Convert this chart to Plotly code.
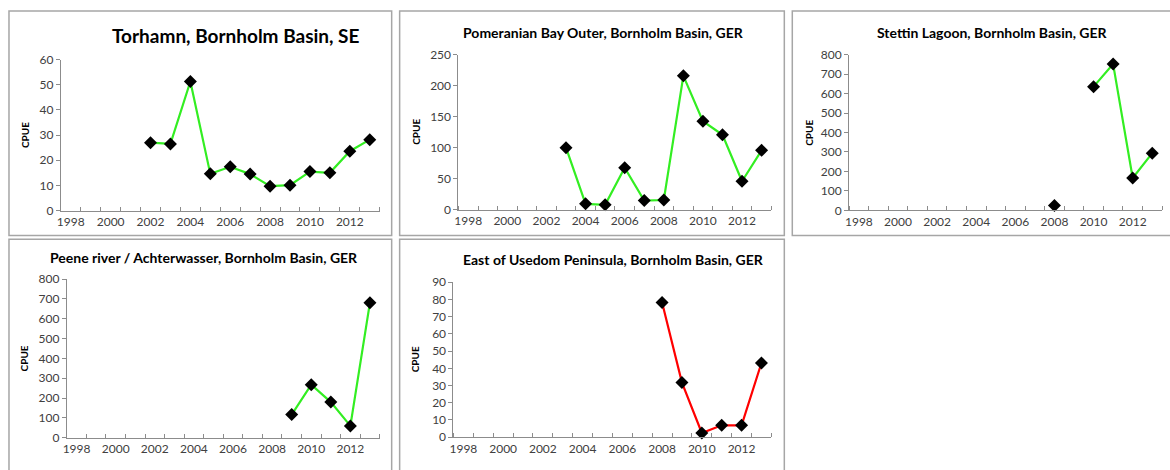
import plotly.graph_objects as go

W, H = 1170, 470

# ---- data ----
torhamn_years = [2002, 2003, 2004, 2005, 2006, 2007, 2008, 2009, 2010, 2011, 2012, 2013]
torhamn_cpue = [27.0, 26.5, 51.3, 14.6, 17.4, 14.5, 9.7, 10.1, 15.5, 15.0, 23.6, 28.2]

pomeranian_years = [2003, 2004, 2005, 2006, 2007, 2008, 2009, 2010, 2011, 2012, 2013]
pomeranian_cpue = [100, 9.4, 7.8, 67.7, 14.6, 15.6, 216, 142.7, 120.8, 45.8, 95.8]

stettin_years = [2008, 2009, 2010, 2011, 2012, 2013]
stettin_cpue = [25, None, 636, 752, 166, 294]

peene_years = [2009, 2010, 2011, 2012, 2013]
peene_cpue = [117, 268, 180, 60, 681]

usedom_years = [2008, 2009, 2010, 2011, 2012, 2013]
usedom_cpue = [78.2, 31.7, 2.4, 6.9, 6.9, 43.1]

year_labels = [1998, 2000, 2002, 2004, 2006, 2008, 2010, 2012]

panels = [
    dict(title="Torhamn, Bornholm Basin, SE", x=torhamn_years, y=torhamn_cpue,
         color="#33ee22", ymax=60, dy=10, box=(5, 3, 389, 235),
         plot=(57, 377, 53.3, 209.3), title_pos=(233, 28), title_size=19, ytitle_x=21),
    dict(title="Pomeranian Bay Outer, Bornholm Basin, GER", x=pomeranian_years, y=pomeranian_cpue,
         color="#33ee22", ymax=250, dy=50, box=(397, 3, 783, 235),
         plot=(456, 770, 48.3, 208.3), title_pos=(602, 25), title_size=14, ytitle_x=414),
    dict(title="Stettin Lagoon, Bornholm Basin, GER", x=stettin_years, y=stettin_cpue,
         color="#33ee22", ymax=800, dy=100, box=(791, 3, 1175, 235),
         plot=(848, 1162, 48.3, 209), title_pos=(992, 25), title_size=14, ytitle_x=807),
    dict(title="Peene river / Achterwasser, Bornholm Basin, GER", x=peene_years, y=peene_cpue,
         color="#33ee22", ymax=800, dy=100, box=(5, 239, 389, 480),
         plot=(63, 377, 280, 444), title_pos=(201, 258), title_size=14, ytitle_x=21),
    dict(title="East of Usedom Peninsula, Bornholm Basin, GER", x=usedom_years, y=usedom_cpue,
         color="#ff0000", ymax=90, dy=10, box=(397, 239, 783, 480),
         plot=(451, 770, 283.3, 443.3), title_pos=(612, 260), title_size=14, ytitle_x=412),
]

fig = go.Figure()
FONT = "Lato, 'Open Sans', sans-serif"
shapes = []
annotations = []

for i, p in enumerate(panels):
    n = i + 1
    xa = "x" if n == 1 else f"x{n}"
    ya = "y" if n == 1 else f"y{n}"
    fig.add_trace(go.Scatter(
        x=p["x"], y=p["y"], xaxis=xa, yaxis=ya, mode="lines+markers",
        line=dict(color=p["color"], width=2.2),
        marker=dict(symbol="diamond", size=10, color="black"),
        connectgaps=False, cliponaxis=False, showlegend=False, hoverinfo="x+y"))
    x0, x1, ytop, ybot = p["plot"]
    xaxis = dict(
        domain=[x0 / W, x1 / W], range=[1997.5, 2013.5], anchor=ya,
        tickvals=year_labels, ticktext=[str(v) for v in year_labels],
        ticks="", showgrid=False, zeroline=False,
        showline=True, linecolor="#8c8c8c", linewidth=1,
        tickfont=dict(family=FONT, size=12, color="#404040"),
        minor=dict(tickvals=[v + 0.5 for v in range(1997, 2014)], ticks="inside",
                   ticklen=4, tickcolor="#8c8c8c", showgrid=False),
        fixedrange=True)
    yaxis = dict(
        domain=[1 - ybot / H, 1 - ytop / H], range=[0, p["ymax"]], anchor=xa,
        tickvals=list(range(0, p["ymax"] + 1, p["dy"])),
        ticks="outside", ticklen=4, tickcolor="#8c8c8c",
        showgrid=False, zeroline=False,
        showline=True, linecolor="#8c8c8c", linewidth=1,
        tickfont=dict(family=FONT, size=12, color="#404040"),
        fixedrange=True)
    fig.update_layout(**{("xaxis" if n == 1 else f"xaxis{n}"): xaxis,
                         ("yaxis" if n == 1 else f"yaxis{n}"): yaxis})
    bx0, by0, bx1, by1 = p["box"]
    shapes.append(dict(type="rect", xref="paper", yref="paper",
                       x0=bx0 / W, x1=bx1 / W, y0=1 - by1 / H, y1=1 - by0 / H,
                       line=dict(color="#a6a6a6", width=1.5), layer="below"))
    tx, ty = p["title_pos"]
    annotations.append(dict(text=f"<b>{p['title']}</b>", xref="paper", yref="paper",
                            x=tx / W, y=1 - ty / H, xanchor="center", yanchor="middle",
                            showarrow=False, font=dict(family=FONT, size=p["title_size"], color="black")))
    annotations.append(dict(text="<b>CPUE</b>", xref="paper", yref="paper",
                            x=p["ytitle_x"] / W, y=1 - ((ytop + ybot) / 2) / H,
                            xanchor="center", yanchor="middle", textangle=-90,
                            showarrow=False, font=dict(family=FONT, size=10, color="black")))

fig.update_layout(width=W, height=H, margin=dict(l=0, r=0, t=0, b=0),
                  paper_bgcolor="white", plot_bgcolor="white",
                  shapes=shapes, annotations=annotations)

fig.write_html("out.html", config={"displayModeBar": False},
               post_script="document.body.style.margin='0';document.body.style.overflow='hidden';")
